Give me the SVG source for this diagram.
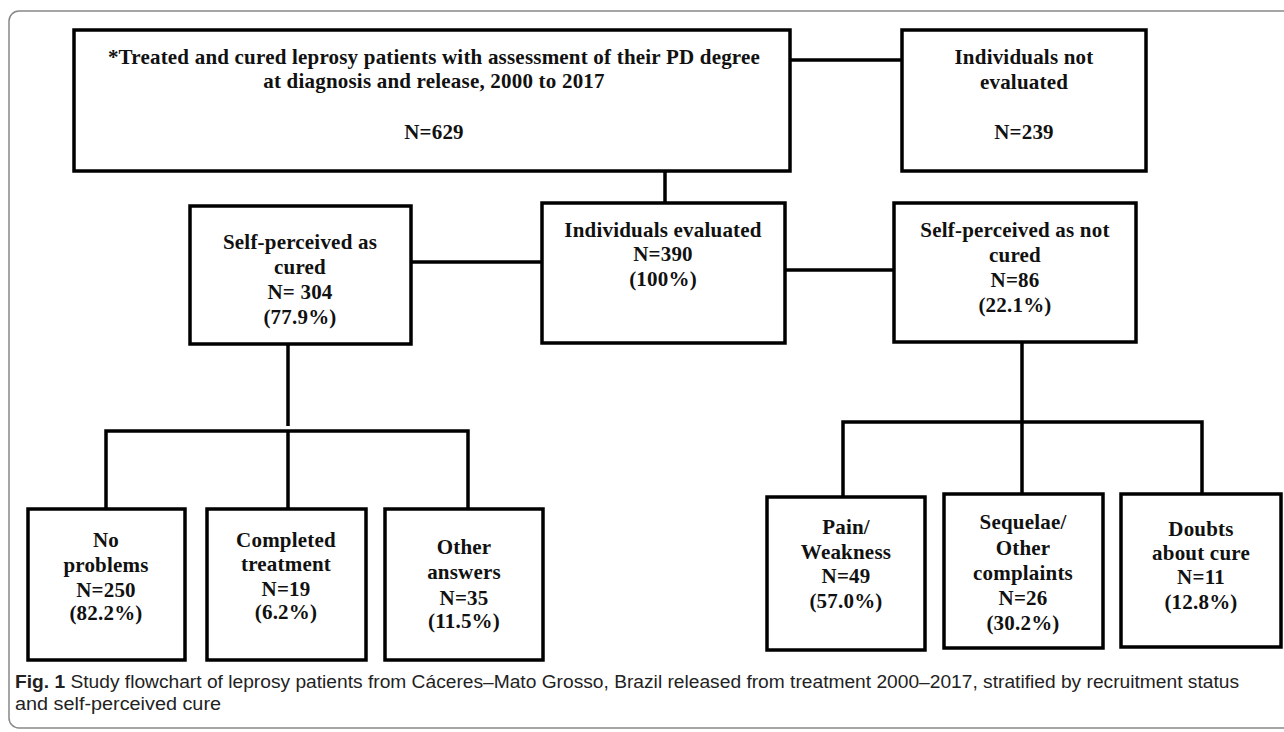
<svg xmlns="http://www.w3.org/2000/svg" width="1284" height="732" viewBox="0 0 1284 732">
<style>
.box{fill:#fff;stroke:#000;stroke-width:3.5}
.t{font-family:"Liberation Serif","Times New Roman",serif;font-weight:bold;font-size:21px;letter-spacing:0.2px;fill:#111;text-anchor:middle}
.c{fill:none;stroke:#000;stroke-width:3.5}
.cap{font-family:"Liberation Sans",Arial,sans-serif;font-size:17.5px;fill:#222}
</style>
<rect width="1284" height="732" fill="#fff"/>
<path d="M1290,11 H19 A10,10 0 0 0 9,21 V718 A10,10 0 0 0 19,728 H1290" fill="none" stroke="#888" stroke-width="1.5"/>
<g id="connectors">
<path class="c" d="M790,60 H902"/>
<path class="c" d="M665,171 V203"/>
<path class="c" d="M411,262 H542"/>
<path class="c" d="M785,270 H894"/>
<path class="c" d="M288,344 V426 M106,509 V431 H468 V509 M288,431 V509"/>
<path class="c" d="M1022,342 V422 M843,497 V422 H1202 V494 M1022,422 V494"/>
</g>
<g id="n-main">
<rect class="box" x="74" y="30" width="716" height="141"/>
<text class="t" x="434" y="64">*Treated and cured leprosy patients with assessment of their PD degree</text>
<text class="t" x="434" y="88">at diagnosis and release, 2000 to 2017</text>
<text class="t" x="434" y="139">N=629</text>
</g>
<g id="n-notevaluated">
<rect class="box" x="902" y="30" width="244" height="141"/>
<text class="t" x="1024" y="64">Individuals not</text>
<text class="t" x="1024" y="89">evaluated</text>
<text class="t" x="1024" y="139">N=239</text>
</g>
<g id="n-evaluated">
<rect class="box" x="542" y="203" width="243" height="140"/>
<text class="t" x="663" y="237">Individuals evaluated</text>
<text class="t" x="663" y="261">N=390</text>
<text class="t" x="663" y="286">(100%)</text>
</g>
<g id="n-cured">
<rect class="box" x="190" y="206" width="221" height="138"/>
<text class="t" x="300" y="249">Self-perceived as</text>
<text class="t" x="300" y="274">cured</text>
<text class="t" x="300" y="299">N= 304</text>
<text class="t" x="300" y="324">(77.9%)</text>
</g>
<g id="n-notcured">
<rect class="box" x="894" y="203" width="242" height="139"/>
<text class="t" x="1015" y="237">Self-perceived as not</text>
<text class="t" x="1015" y="262">cured</text>
<text class="t" x="1015" y="287">N=86</text>
<text class="t" x="1015" y="312">(22.1%)</text>
</g>
<g id="n-noproblems">
<rect class="box" x="28" y="509" width="157" height="151"/>
<text class="t" x="106" y="547">No</text>
<text class="t" x="106" y="572">problems</text>
<text class="t" x="106" y="597">N=250</text>
<text class="t" x="106" y="620">(82.2%)</text>
</g>
<g id="n-completed">
<rect class="box" x="207" y="509" width="159" height="151"/>
<text class="t" x="286" y="547">Completed</text>
<text class="t" x="286" y="571">treatment</text>
<text class="t" x="286" y="596">N=19</text>
<text class="t" x="286" y="619">(6.2%)</text>
</g>
<g id="n-other">
<rect class="box" x="385" y="509" width="158" height="151"/>
<text class="t" x="464" y="554">Other</text>
<text class="t" x="464" y="579">answers</text>
<text class="t" x="464" y="605">N=35</text>
<text class="t" x="464" y="628">(11.5%)</text>
</g>
<g id="n-pain">
<rect class="box" x="767" y="497" width="158" height="153"/>
<text class="t" x="846" y="534">Pain/</text>
<text class="t" x="846" y="559">Weakness</text>
<text class="t" x="846" y="583">N=49</text>
<text class="t" x="846" y="608">(57.0%)</text>
</g>
<g id="n-sequelae">
<rect class="box" x="944" y="494" width="159" height="154"/>
<text class="t" x="1023" y="529">Sequelae/</text>
<text class="t" x="1023" y="555">Other</text>
<text class="t" x="1023" y="580">complaints</text>
<text class="t" x="1023" y="605">N=26</text>
<text class="t" x="1023" y="630">(30.2%)</text>
</g>
<g id="n-doubts">
<rect class="box" x="1121" y="494" width="160" height="153"/>
<text class="t" x="1201" y="536">Doubts</text>
<text class="t" x="1201" y="560">about cure</text>
<text class="t" x="1201" y="584">N=11</text>
<text class="t" x="1201" y="609">(12.8%)</text>
</g>
<g id="caption">
<text class="cap" x="15" y="688" textLength="1224" lengthAdjust="spacingAndGlyphs"><tspan font-weight="bold">Fig. 1</tspan>  Study flowchart of leprosy patients from Cáceres–Mato Grosso, Brazil released from treatment 2000–2017, stratified by recruitment status</text>
<text class="cap" x="15" y="710" textLength="206" lengthAdjust="spacingAndGlyphs">and self-perceived cure</text>
</g>
</svg>
